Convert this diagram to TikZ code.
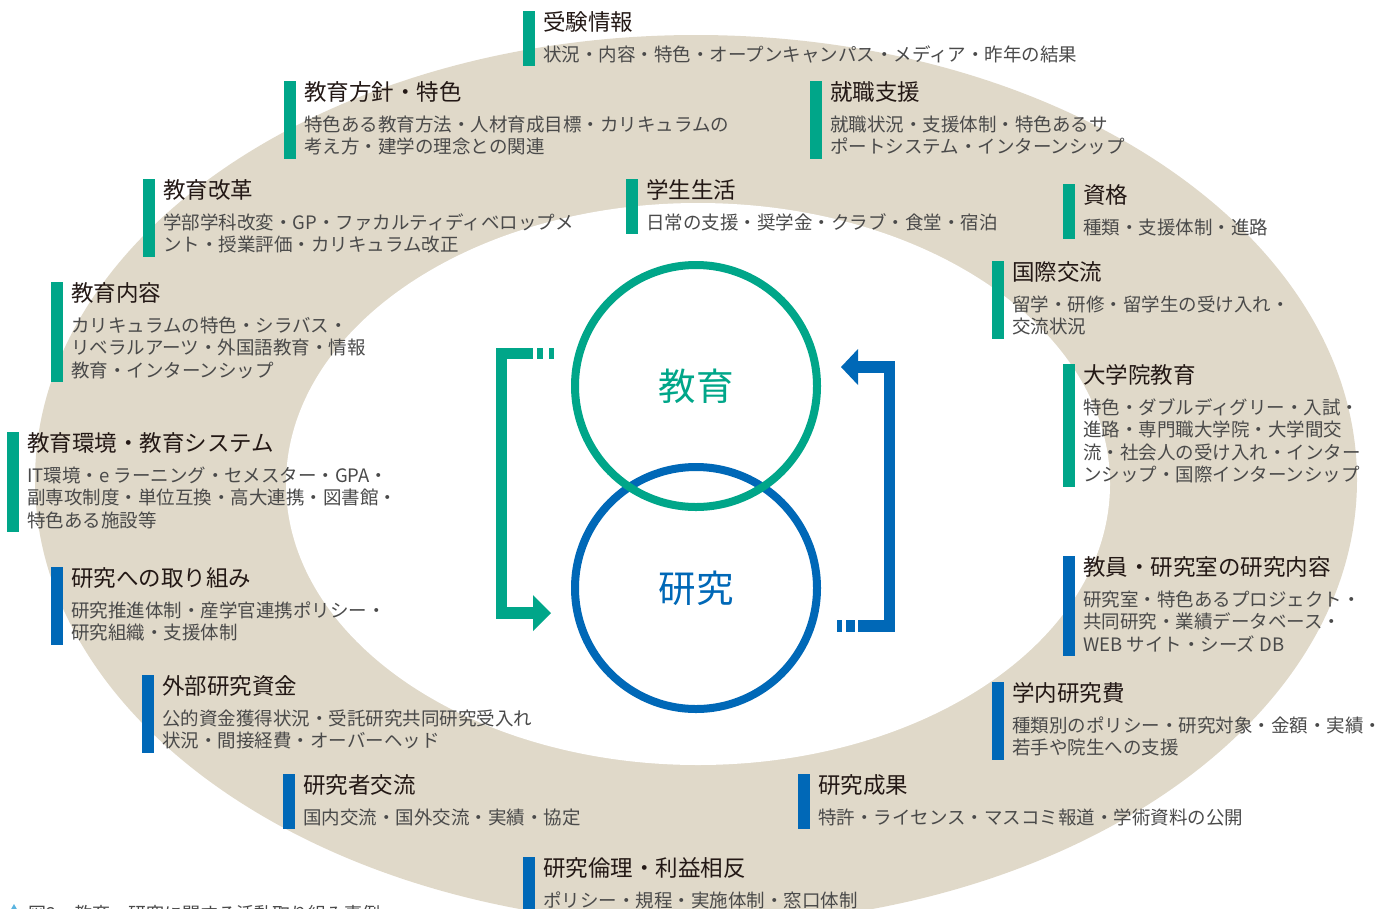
\documentclass[tikz,border=0pt]{standalone}
\usepackage{fontspec}
\setmainfont{Noto Sans CJK JP}
\usetikzlibrary{arrows.meta}
\definecolor{beige}{HTML}{E0D9C9}
\definecolor{cgreen}{HTML}{00A689}
\definecolor{cblue}{HTML}{0068B7}
\definecolor{ttlc}{HTML}{231815}
\definecolor{dscc}{HTML}{4A4A4A}
\definecolor{capmark}{HTML}{5BB4E0}
\tikzset{
  ttl/.style={anchor=base west, inner sep=0pt, text=ttlc, font=\fontsize{22.5}{27}\selectfont},
  dsc/.style={anchor=base west, inner sep=0pt, text=dscc, font=\fontsize{18.5}{22}\selectfont},
  ring/.style={circle, inner sep=0pt, minimum size=242pt, line width=8pt, font=\fontsize{37.5}{40}\selectfont},
}
% id, colour, bar left, title centre y, number of lines, title, lines
\newcommand{\blk}[7]{%
  \fill[#2] (#3,{#4-11}) rectangle ({#3+12},{#4+44+(#5-1)*22.5});
  \node[ttl] (#1t) at ({#3+20},{#4+8.5}) {#6};
  \foreach \ln [count=\i] in {#7} {
    \node[dsc] (#1d\i) at ({#3+20},{#4+39+(\i-1)*22.5}) {\ln};
  }
}
\begin{document}
\begin{tikzpicture}[x=1pt,y=-1pt]
\useasboundingbox (0,0) rectangle (1386,908);
% ring
\fill[beige] (696,480) ellipse [x radius=661, y radius=445];
\fill[white] (698,484) ellipse [x radius=412, y radius=281];

% central circles
\node[ring, draw=cblue, text=cblue] (res) at (696,588) {研究};
\node[ring, draw=cgreen, text=cgreen] (edu) at (696,386) {教育};

% green bracket (education -> research)
\coordinate (gs) at (533,353.5);
\coordinate (gc1) at (501.5,353.5);
\coordinate (gc2) at (501.5,613);
\coordinate (ge) at (534,613);
\draw[cgreen, line width=11.5pt, line join=miter] (gs) -- (gc1) -- (gc2) -- (ge);
\fill[cgreen] (533,595) -- (551,613) -- (533,631) -- cycle;
\fill[cgreen] (537,347.75) rectangle (543,359.25);
\fill[cgreen] (549,347.75) rectangle (554,359.25);

% blue bracket (research -> education)
\coordinate (bs) at (858,626);
\coordinate (bc1) at (889.5,626);
\coordinate (bc2) at (889.5,367);
\coordinate (be) at (857,367);
\draw[cblue, line width=11.5pt, line join=miter] (bs) -- (bc1) -- (bc2) -- (be);
\fill[cblue] (858,349) -- (841,367) -- (858,385) -- cycle;
\fill[cblue] (846,620.25) rectangle (855,631.75);
\fill[cblue] (837,620.25) rectangle (842,631.75);

% blocks
\blk{a}{cgreen}{523}{22}{1}{受験情報}{状況・内容・特色・オープンキャンパス・メディア・昨年の結果}
\blk{b}{cgreen}{284}{92}{2}{教育方針・特色}{特色ある教育方法・人材育成目標・カリキュラムの,考え方・建学の理念との関連}
\blk{c}{cgreen}{810}{92}{2}{就職支援}{就職状況・支援体制・特色あるサ,ポートシステム・インターンシップ}
\blk{d}{cgreen}{143}{190}{2}{教育改革}{学部学科改変・GP・ファカルティディベロップメ,ント・授業評価・カリキュラム改正}
\blk{e}{cgreen}{626}{190}{1}{学生生活}{日常の支援・奨学金・クラブ・食堂・宿泊}
\blk{f}{cgreen}{1063}{195}{1}{資格}{種類・支援体制・進路}
\blk{g}{cgreen}{992}{272}{2}{国際交流}{留学・研修・留学生の受け入れ・,交流状況}
\blk{h}{cgreen}{51}{293}{3}{教育内容}{カリキュラムの特色・シラバス・,リベラルアーツ・外国語教育・情報,教育・インターンシップ}
\blk{i}{cgreen}{1063}{375}{4}{大学院教育}{特色・ダブルディグリー・入試・,進路・専門職大学院・大学間交,流・社会人の受け入れ・インター,ンシップ・国際インターンシップ}
\blk{j}{cgreen}{7}{443}{3}{教育環境・教育システム}{IT環境・e ラーニング・セメスター・GPA・,副専攻制度・単位互換・高大連携・図書館・,特色ある施設等}
\blk{k}{cblue}{51}{578}{2}{研究への取り組み}{研究推進体制・産学官連携ポリシー・,研究組織・支援体制}
\blk{l}{cblue}{1063}{567}{3}{教員・研究室の研究内容}{研究室・特色あるプロジェクト・,共同研究・業績データベース・,WEB サイト・シーズ DB}
\blk{m}{cblue}{142}{686}{2}{外部研究資金}{公的資金獲得状況・受託研究共同研究受入れ,状況・間接経費・オーバーヘッド}
\blk{n}{cblue}{992}{693}{2}{学内研究費}{種類別のポリシー・研究対象・金額・実績・,若手や院生への支援}
\blk{o}{cblue}{283}{785}{1}{研究者交流}{国内交流・国外交流・実績・協定}
\blk{p}{cblue}{798}{785}{1}{研究成果}{特許・ライセンス・マスコミ報道・学術資料の公開}
\blk{q}{cblue}{523}{868}{1}{研究倫理・利益相反}{ポリシー・規程・実施体制・窓口体制}

% caption (cut off by the page edge)
\fill[capmark] (14,904) -- (18,911) -- (10,911) -- cycle;
\node[anchor=base west, inner sep=0pt, text=dscc, font=\fontsize{18}{20}\selectfont] (cap) at (28,920) {図2\quad 教育・研究に関する活動取り組み事例};
\end{tikzpicture}
\end{document}
